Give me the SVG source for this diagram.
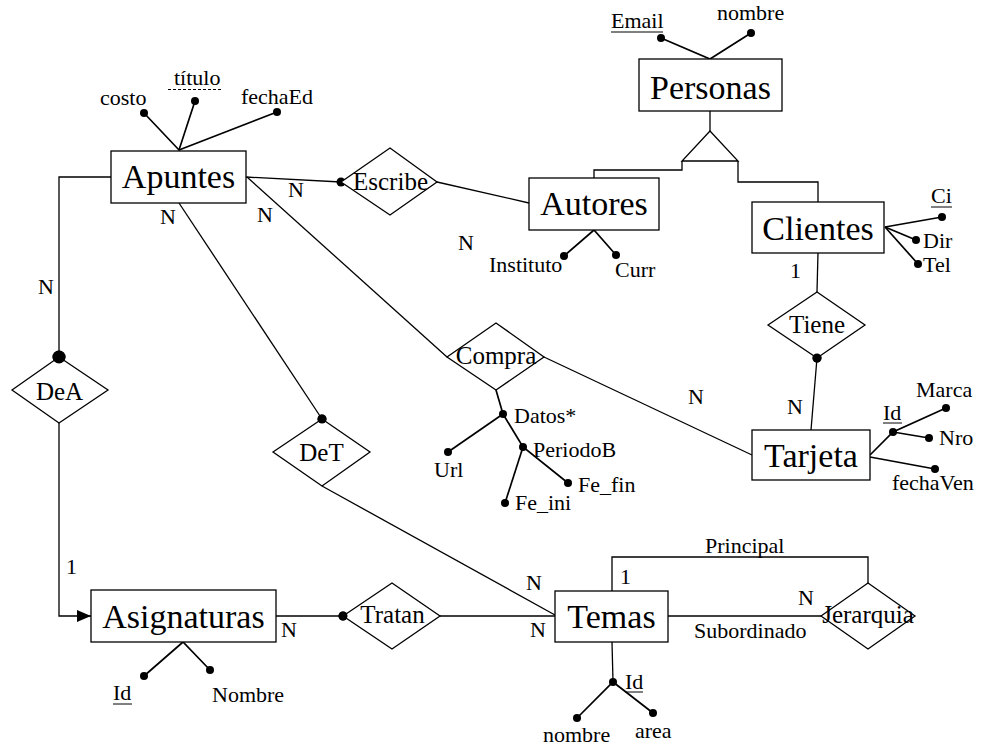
<svg xmlns="http://www.w3.org/2000/svg" width="981" height="751" viewBox="0 0 981 751">
<style>
  .ent { fill: #fff; stroke: #000; stroke-width: 1.3; }
  .rel { fill: #fff; stroke: #000; stroke-width: 1.3; }
  .ln { fill: none; stroke: #000; stroke-width: 1.3; }
  .at { fill: none; stroke: #000; stroke-width: 1.7; }
  .dot { fill: #000; }
  text { font-family: "Liberation Serif", "Times New Roman", serif; fill: #000; }
  .en { font-size: 34px; text-anchor: middle; }
  .rl { font-size: 25px; text-anchor: middle; }
  .a { font-size: 22px; }
  .c { font-size: 22px; }
</style>
<defs>
  <marker id="arr" viewBox="0 0 14 12" refX="14" refY="6" markerWidth="14" markerHeight="12" markerUnits="userSpaceOnUse" orient="auto">
    <path d="M0,0 L14,6 L0,12 Z" fill="#000"/>
  </marker>
</defs>
<rect width="981" height="751" fill="#fff"/>

<g id="connectors">
  <!-- Apuntes - Escribe - Autores -->
  <line class="ln" x1="246" y1="177" x2="341" y2="182"/>
  <line class="ln" x1="437" y1="182" x2="529" y2="203"/>
  <!-- Apuntes - Compra - Tarjeta -->
  <line class="ln" x1="247" y1="177" x2="447" y2="357"/>
  <line class="ln" x1="544" y1="357" x2="752" y2="455"/>
  <!-- Apuntes - DeT - Temas -->
  <line class="ln" x1="179" y1="203" x2="322" y2="419"/>
  <line class="ln" x1="322" y1="486" x2="555" y2="615"/>
  <!-- Apuntes - DeA - Asignaturas -->
  <polyline class="ln" points="111,177 59,177 59,357"/>
  <polyline class="ln" points="59,423 59,616 91,616" marker-end="url(#arr)"/>
  <!-- Asignaturas - Tratan - Temas -->
  <line class="ln" x1="276" y1="616" x2="343" y2="616"/>
  <line class="ln" x1="440" y1="616" x2="555" y2="616"/>
  <!-- Temas - Jerarquia -->
  <polyline class="ln" points="612,591 612,557 868,557 868,583"/>
  <line class="ln" x1="668" y1="616" x2="821" y2="616"/>
  <!-- Clientes - Tiene - Tarjeta -->
  <line class="ln" x1="818" y1="253" x2="817" y2="292"/>
  <line class="ln" x1="817" y1="358" x2="811" y2="430"/>
  <!-- ISA -->
  <line class="ln" x1="710" y1="111" x2="710" y2="131"/>
  <polygon class="ln" points="710,131 682,161 738,161"/>
  <polyline class="ln" points="682,161 682,170 594,170 594,178"/>
  <polyline class="ln" points="738,161 738,182 818,182 818,202"/>
  <!-- relationship dots -->
  <circle class="dot" cx="341" cy="182" r="4.5"/>
  <circle class="dot" cx="59" cy="357" r="6.5"/>
  <circle class="dot" cx="322" cy="419" r="4.5"/>
  <circle class="dot" cx="343" cy="616" r="4.5"/>
  <circle class="dot" cx="817" cy="358" r="4.5"/>
  <!-- cardinalities -->
  <text class="c" x="288" y="197">N</text>
  <text class="c" x="257" y="222">N</text>
  <text class="c" x="160" y="224">N</text>
  <text class="c" x="38" y="294">N</text>
  <text class="c" x="458" y="250">N</text>
  <text class="c" x="688" y="404">N</text>
  <text class="c" x="787" y="414">N</text>
  <text class="c" x="790" y="278">1</text>
  <text class="c" x="66" y="574">1</text>
  <text class="c" x="281" y="637">N</text>
  <text class="c" x="526" y="590">N</text>
  <text class="c" x="530" y="637">N</text>
  <text class="c" x="620" y="584">1</text>
  <text class="c" x="798" y="605">N</text>
  <text class="a" x="705" y="553">Principal</text>
  <text class="a" x="694" y="638">Subordinado</text>
</g>

<g id="Apuntes">
  <polyline class="at" points="144,113 179,150 195,101"/>
  <line class="at" x1="179" y1="150" x2="277" y2="112"/>
  <circle class="dot" cx="144" cy="113" r="4"/>
  <circle class="dot" cx="195" cy="101" r="4"/>
  <circle class="dot" cx="277" cy="112" r="4"/>
  <text class="a" x="100" y="105">costo</text>
  <text class="a" x="174" y="85">título</text>
  <line x1="168" y1="89.5" x2="223" y2="89.5" stroke="#000" stroke-width="1" stroke-dasharray="3,2"/>
  <text class="a" x="241" y="104">fechaEd</text>
  <rect class="ent" x="111" y="151" width="135" height="52"/>
  <text class="en" x="178.5" y="188">Apuntes</text>
</g>

<g id="Personas">
  <polyline class="at" points="661,38 710,59 751,33"/>
  <circle class="dot" cx="661" cy="38" r="4"/>
  <circle class="dot" cx="751" cy="33" r="4"/>
  <text class="a" x="611" y="28">Email</text>
  <line x1="611" y1="32" x2="663" y2="32" stroke="#000" stroke-width="1"/>
  <text class="a" x="717" y="20">nombre</text>
  <rect class="ent" x="639" y="59" width="143" height="52"/>
  <text class="en" x="710.5" y="99">Personas</text>
</g>

<g id="Autores">
  <polyline class="at" points="564,256 594,230 616,255"/>
  <circle class="dot" cx="564" cy="256" r="4"/>
  <circle class="dot" cx="616" cy="255" r="4"/>
  <text class="a" x="489" y="272">Instituto</text>
  <text class="a" x="615" y="277">Curr</text>
  <rect class="ent" x="529" y="178" width="130" height="52"/>
  <text class="en" x="594" y="215">Autores</text>
</g>

<g id="Clientes">
  <line class="at" x1="885" y1="227" x2="942" y2="217"/>
  <line class="at" x1="885" y1="227" x2="916" y2="240"/>
  <line class="at" x1="885" y1="227" x2="918" y2="264"/>
  <circle class="dot" cx="942" cy="217" r="4"/>
  <circle class="dot" cx="916" cy="240" r="4"/>
  <circle class="dot" cx="918" cy="264" r="4"/>
  <text class="a" x="931" y="203">Ci</text>
  <line x1="931" y1="207" x2="952" y2="207" stroke="#000" stroke-width="1"/>
  <text class="a" x="923" y="248">Dir</text>
  <text class="a" x="923" y="272">Tel</text>
  <rect class="ent" x="752" y="202" width="132" height="51"/>
  <text class="en" x="818" y="240">Clientes</text>
</g>

<g id="Tarjeta">
  <polyline class="at" points="870,455 893,432 946,408"/>
  <line class="at" x1="893" y1="432" x2="929" y2="438"/>
  <line class="at" x1="870" y1="457" x2="935" y2="469"/>
  <circle class="dot" cx="893" cy="432" r="4"/>
  <circle class="dot" cx="946" cy="408" r="4"/>
  <circle class="dot" cx="929" cy="438" r="4"/>
  <circle class="dot" cx="935" cy="469" r="4"/>
  <text class="a" x="916" y="397">Marca</text>
  <text class="a" x="883" y="420">Id</text>
  <line x1="883" y1="423" x2="902" y2="423" stroke="#000" stroke-width="1"/>
  <text class="a" x="939" y="445">Nro</text>
  <text class="a" x="892" y="490">fechaVen</text>
  <rect class="ent" x="752" y="430" width="118" height="50"/>
  <text class="en" x="811" y="467">Tarjeta</text>
</g>

<g id="Asignaturas">
  <polyline class="at" points="144,676 183,642 210,670"/>
  <circle class="dot" cx="144" cy="676" r="4"/>
  <circle class="dot" cx="210" cy="670" r="4"/>
  <text class="a" x="113" y="700">Id</text>
  <line x1="113" y1="704" x2="132" y2="704" stroke="#000" stroke-width="1"/>
  <text class="a" x="212" y="702">Nombre</text>
  <rect class="ent" x="91" y="590" width="185" height="52"/>
  <text class="en" x="183.5" y="628">Asignaturas</text>
</g>

<g id="Temas">
  <line class="ln" x1="612" y1="642" x2="613" y2="682"/>
  <polyline class="at" points="577,718 613,682 653,713"/>
  <circle class="dot" cx="613" cy="682" r="4"/>
  <circle class="dot" cx="577" cy="718" r="4"/>
  <circle class="dot" cx="653" cy="713" r="4"/>
  <text class="a" x="625" y="689">Id</text>
  <line x1="625" y1="692" x2="643" y2="692" stroke="#000" stroke-width="1"/>
  <text class="a" x="543" y="742">nombre</text>
  <text class="a" x="635" y="738">area</text>
  <rect class="ent" x="555" y="591" width="113" height="51"/>
  <text class="en" x="611.5" y="628">Temas</text>
</g>

<g id="Escribe">
  <polygon class="rel" points="341,182 390,148 437,182 390,215" fill="none"/>
  <text class="rl" x="390.5" y="190">Escribe</text>
</g>

<g id="Compra">
  <polygon class="rel" points="447,357 496,323 544,357 496,390" fill="none"/>
  <text class="rl" x="496" y="364">Compra</text>
  <line class="at" x1="496" y1="390" x2="503" y2="414"/>
  <line class="at" x1="503" y1="414" x2="448" y2="452"/>
  <polyline class="at" points="503,414 523,447 568,483"/>
  <line class="at" x1="523" y1="447" x2="505" y2="503"/>
  <circle class="dot" cx="503" cy="414" r="4"/>
  <circle class="dot" cx="448" cy="452" r="4"/>
  <circle class="dot" cx="523" cy="447" r="4"/>
  <circle class="dot" cx="568" cy="483" r="4"/>
  <circle class="dot" cx="505" cy="503" r="4"/>
  <text class="a" x="514" y="423">Datos*</text>
  <text class="a" x="434" y="477">Url</text>
  <text class="a" x="533" y="457">PeriodoB</text>
  <text class="a" x="578" y="492">Fe_fin</text>
  <text class="a" x="515" y="510">Fe_ini</text>
</g>

<g id="Tiene">
  <polygon class="rel" points="768,325 817,292 865,325 817,358"/>
  <text class="rl" x="817" y="333">Tiene</text>
  <circle class="dot" cx="817" cy="358" r="4.5"/>
</g>

<g id="DeA">
  <polygon class="rel" points="12,390 59,357 108,390 59,423"/>
  <text class="rl" x="59.5" y="400">DeA</text>
  <circle class="dot" cx="59" cy="357" r="6.5"/>
</g>

<g id="DeT">
  <polygon class="rel" points="273,452 322,419 370,452 322,486"/>
  <text class="rl" x="321.5" y="461">DeT</text>
  <circle class="dot" cx="322" cy="419" r="4.5"/>
</g>

<g id="Tratan">
  <polygon class="rel" points="343,616 392,583 440,616 392,649"/>
  <text class="rl" x="392.5" y="623">Tratan</text>
  <circle class="dot" cx="343" cy="616" r="4.5"/>
</g>

<g id="Jerarquia">
  <polygon class="rel" points="821,616 868,583 915,616 868,649" fill="none"/>
  <text class="rl" x="868" y="623">Jerarquia</text>
</g>
</svg>
